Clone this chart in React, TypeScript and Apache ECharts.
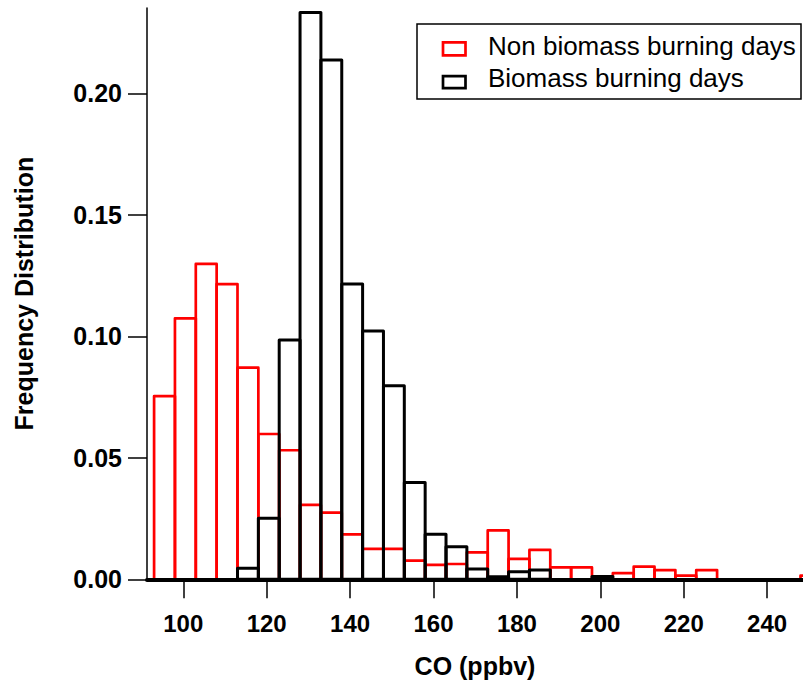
import React, { useEffect, useRef } from "react";
import * as echarts from "echarts";

// Bin edges of the CO histogram (ppbv)
const binEdges = [
  93, 98, 103, 108, 113, 118, 123, 128, 133, 138, 143, 148, 153, 158, 163, 168,
  173, 178, 183, 188, 193, 198, 203, 208, 213, 218, 223, 228, 233, 238, 243, 248, 253,
];

// Frequency distribution, non biomass burning days
const nonBurning = [
  0.0754, 0.1074, 0.1298, 0.1215, 0.0871, 0.0598, 0.0531, 0.0306, 0.0274, 0.0185,
  0.0125, 0.0125, 0.0077, 0.0059, 0.0063, 0.0111, 0.0201, 0.0084, 0.0121, 0.0049,
  0.0049, 0, 0.0025, 0.0052, 0.0038, 0.0015, 0.0038, 0, 0, 0, 0, 0.0015,
];

// Frequency distribution, biomass burning days
const burning = [
  0, 0, 0, 0, 0.0045, 0.0251, 0.0985, 0.2332, 0.2137, 0.1215,
  0.1022, 0.0796, 0.0398, 0.0185, 0.0134, 0.0042, 0.001, 0.0031, 0.0038, 0,
  0, 0.0012, 0, 0, 0, 0, 0, 0, 0, 0, 0, 0,
];

const xTicks = [100, 120, 140, 160, 180, 200, 220, 240];
const yTicks = [0, 0.05, 0.1, 0.15, 0.2];

const seriesNames = ["Non biomass burning days", "Biomass burning days"];

const FONT = "'Liberation Sans', Arial, Helvetica, sans-serif";

function toBins(vals: number[]) {
  return vals.map((v, i) => [binEdges[i], binEdges[i + 1], v]);
}

function makeRender(color: string, lw: number) {
  return (params: any, api: any) => {
    const l = api.value(0);
    const r = api.value(1);
    const v = api.value(2);
    if (!v) return null;
    const p0 = api.coord([l, v]);
    const p1 = api.coord([r, 0]);
    return {
      type: "rect",
      shape: { x: p0[0], y: p0[1], width: p1[0] - p0[0], height: p1[1] - p0[1] },
      style: { fill: "none", stroke: color, lineWidth: lw, lineJoin: "round" },
    };
  };
}

export default function App() {
  const ref = useRef<HTMLDivElement>(null);
  useEffect(() => {
    if (!ref.current) return;
    const chart = echarts.init(ref.current, null, { renderer: "svg" });
    chart.setOption({
      animation: false,
      backgroundColor: "#fff",
      grid: { left: 147, top: 8, right: 0, bottom: 107.7, containLabel: false },
      xAxis: {
        type: "value",
        min: 91.3,
        max: 248.6,
        z: 10,
        name: "CO (ppbv)",
        nameLocation: "middle",
        nameGap: 74,
        nameTextStyle: { fontSize: 25, fontWeight: "bold", color: "#000", fontFamily: FONT },
        axisLine: { show: true, onZero: false, lineStyle: { color: "#000", width: 4 } },
        axisTick: {
          show: true,
          customValues: xTicks,
          length: 19,
          lineStyle: { color: "#000", width: 1.5 },
        },
        axisLabel: {
          customValues: xTicks,
          margin: 32,
          fontSize: 24,
          fontWeight: "bold",
          color: "#000",
          fontFamily: FONT,
        },
        splitLine: { show: false },
      },
      yAxis: {
        type: "value",
        min: 0,
        max: 0.2351,
        name: "Frequency Distribution",
        nameLocation: "middle",
        nameRotate: 90,
        nameGap: 111,
        nameTextStyle: { fontSize: 25, fontWeight: "bold", color: "#000", fontFamily: FONT },
        axisLine: { show: true, lineStyle: { color: "#000", width: 1.5 } },
        axisTick: {
          show: true,
          customValues: yTicks,
          length: 19,
          lineStyle: { color: "#000", width: 1.5 },
        },
        axisLabel: {
          customValues: yTicks,
          margin: 25,
          fontSize: 25,
          fontWeight: "bold",
          color: "#000",
          fontFamily: FONT,
          formatter: (v: number) => v.toFixed(2),
        },
        splitLine: { show: false },
      },
      series: [
        {
          type: "custom",
          name: seriesNames[0],
          z: 2,
          renderItem: makeRender("#ff0000", 2.7),
          encode: { x: [0, 1], y: 2 },
          data: toBins(nonBurning),
        },
        {
          type: "custom",
          name: seriesNames[1],
          z: 3,
          renderItem: makeRender("#000000", 3),
          encode: { x: [0, 1], y: 2 },
          data: toBins(burning),
        },
      ],
      graphic: [
        {
          type: "rect",
          z: 20,
          shape: { x: 417, y: 24, width: 384, height: 75 },
          style: { fill: "#fff", stroke: "#000", lineWidth: 1.5 },
        },
        {
          type: "rect",
          z: 21,
          shape: { x: 443, y: 42.3, width: 22.5, height: 13 },
          style: { fill: "none", stroke: "#ff0000", lineWidth: 2.7 },
        },
        {
          type: "text",
          z: 21,
          x: 488,
          y: 46,
          style: {
            text: seriesNames[0],
            fill: "#000",
            font: `26px ${FONT}`,
            verticalAlign: "middle",
            align: "left",
          },
        },
        {
          type: "rect",
          z: 21,
          shape: { x: 443, y: 76.2, width: 22.5, height: 12 },
          style: { fill: "none", stroke: "#000", lineWidth: 2.7 },
        },
        {
          type: "text",
          z: 21,
          x: 488,
          y: 78,
          style: {
            text: seriesNames[1],
            fill: "#000",
            font: `26px ${FONT}`,
            verticalAlign: "middle",
            align: "left",
          },
        },
      ],
    });
    return () => chart.dispose();
  }, []);
  return (
    <div
      ref={ref}
      style={{ position: "absolute", left: 0, top: 0, width: 803, height: 687 }}
    />
  );
}
